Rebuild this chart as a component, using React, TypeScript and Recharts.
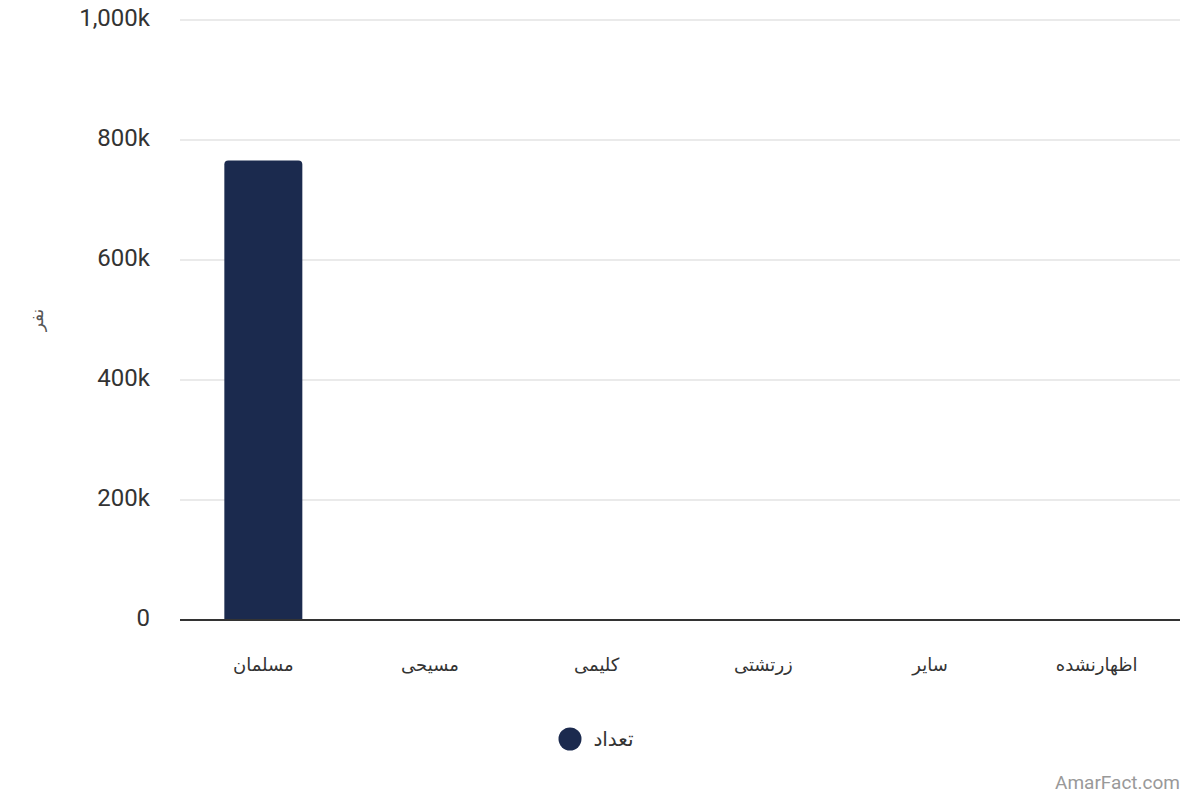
import { BarChart, Bar, XAxis, YAxis, CartesianGrid, Legend } from "recharts";

const RELIGIONS = ["مسلمان", "مسیحی", "کلیمی", "زرتشتی", "سایر", "اظهارنشده"];
const COUNTS = [766000, 250, 100, 150, 300, 200];
const Y_TICKS = [0, 200000, 400000, 600000, 800000, 1000000];
const SERIES_NAME = "تعداد";
const Y_LABEL = "نفر";

const data = RELIGIONS.map((name, i) => ({ name, count: COUNTS[i] }));

const NAVY = "#1b2a4e";
const FONT = "Roboto, 'DejaVu Sans', sans-serif";

function formatTick(v: number) {
  if (v === 0) return "0";
  return `${(v / 1000).toLocaleString("en-US")}k`;
}

function LegendContent() {
  return (
    <div style={{ display: "flex", alignItems: "center", justifyContent: "center", gap: 11, marginLeft: -8 }}>
      <svg width={24} height={24}>
        <circle cx={12} cy={12} r={11.5} fill={NAVY} />
      </svg>
      <span style={{ fontSize: 20, color: "#333", fontFamily: FONT }}>{SERIES_NAME}</span>
    </div>
  );
}

export default function App() {
  return (
    <div style={{ position: "absolute", left: 0, top: 0, width: 1200, height: 800, background: "#fff" }}>
      <BarChart
        width={1200}
        height={800}
        data={data}
        margin={{ top: 20, right: 20, left: 0, bottom: 76 }}
        barCategoryGap="26.6%"
      >
        <CartesianGrid vertical={false} stroke="#e3e3e3" strokeWidth={1.5} />
        <XAxis
          dataKey="name"
          height={80}
          tickLine={false}
          tickMargin={32}
          axisLine={{ stroke: "#333", strokeWidth: 2 }}
          tick={{ fontSize: 18, fill: "#333", fontFamily: FONT }}
        />
        <YAxis
          width={180}
          domain={[0, 1000000]}
          ticks={Y_TICKS}
          tickFormatter={formatTick}
          axisLine={false}
          tickLine={false}
          tickMargin={24}
          tick={{ fontSize: 24, fill: "#333", fontFamily: FONT, dy: -3 }}
          label={{
            value: Y_LABEL,
            angle: -90,
            position: "insideLeft",
            offset: 37,
            style: { fontSize: 17, fill: "#555", fontFamily: FONT, textAnchor: "middle" },
          }}
        />
        <Legend
          verticalAlign="bottom"
          content={LegendContent}
          wrapperStyle={{ top: 727, left: 0, width: 1200 }}
        />
        <Bar
          dataKey="count"
          name={SERIES_NAME}
          fill={NAVY}
          radius={[4, 4, 0, 0]}
          isAnimationActive={false}
        />
      </BarChart>
      <div
        style={{
          position: "absolute",
          right: 20,
          top: 771,
          fontSize: 19,
          color: "#999",
          fontFamily: FONT,
        }}
      >
        AmarFact.com
      </div>
    </div>
  );
}
